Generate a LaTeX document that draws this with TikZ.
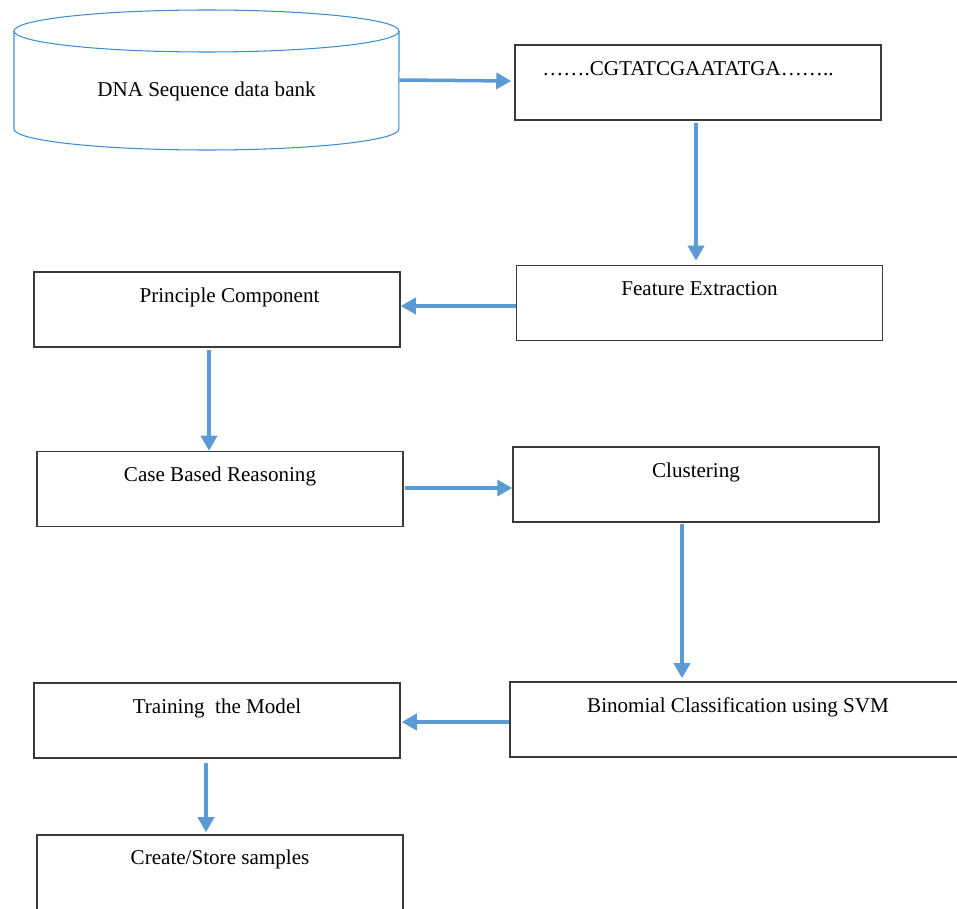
\documentclass[tikz,border=0pt]{standalone}
\usepackage{fontspec}
\setmainfont{Liberation Serif}
\usetikzlibrary{arrows.meta}
\definecolor{flowblue}{HTML}{5B9BD5}
\definecolor{bankblue}{HTML}{3C8DD6}
\definecolor{boxgray}{HTML}{3A3A3A}

\begin{document}
\begin{tikzpicture}[x=0.02cm,y=-0.02cm,
    stage/.style={rectangle,draw=boxgray,line width=0.9pt,inner sep=0pt,
      minimum width=7.32cm,text height=0.6cm,text depth=0.9cm,font=\fontsize{12}{14}\selectfont},
    flow/.style={draw=flowblue,line width=2pt,-{Triangle[length=0.3cm,width=0.32cm]}}]
    \useasboundingbox (0,0) rectangle (957,909);

    % data bank drawn as a cylinder
    \draw[bankblue,line width=0.6pt] (206.5,31) ellipse [x radius=3.85cm,y radius=0.42cm];
    \draw[bankblue,line width=0.6pt] (14,31) -- (14,129)
      arc [start angle=180,end angle=360,x radius=3.85cm,y radius=0.42cm] -- (399,31);
    \node[inner sep=0pt,minimum width=7.7cm,text height=1.74cm,text depth=1.06cm,
      font=\fontsize{12}{14}\selectfont] (bank) at (206.5,80) {DNA Sequence data bank};

    \node[stage] (seq) at (698,82.5) {\hspace*{-0.4cm}…….CGTATCGAATATGA……..};
    \node[stage] (feat) at (699.5,303) {Feature Extraction};
    \node[stage] (pc) at (217,309.5) {\hspace*{0.5cm}Principle Component};
    \node[stage] (cbr) at (220,489) {Case Based Reasoning};
    \node[stage] (clust) at (696,484.5) {Clustering};
    \node[stage,minimum width=9.12cm] (binom) at (738,719.5) {Binomial Classification using SVM};
    \node[stage] (train) at (217,720.5) {Training\ \ the Model};
    \node[stage,text depth=1.2cm] (store) at (220,880) {};
    \node[font=\fontsize{12}{14}\selectfont] (storetext) at (store.north) [anchor=north,inner sep=0pt,text height=0.6cm] {Create/Store samples};

    \path[flow] (bank.east |- 0,80) -- ([xshift=-0.06cm]seq.west |- 0,81);
    \path[flow] ([xshift=-0.04cm,yshift=-0.04cm]seq.south) -- ([xshift=-0.04cm,yshift=0.08cm]seq.south |- feat.north);
    \path[flow] (feat.west |- 0,306) -- (pc.east |- 0,306);
    \path[flow] ([xshift=-0.16cm,yshift=-0.04cm]pc.south) -- ([xshift=-0.16cm]pc.south |- cbr.north);
    \path[flow] ([xshift=0.02cm]cbr.east |- 0,488) -- (clust.west |- 0,488);
    \path[flow] ([xshift=-0.28cm,yshift=-0.02cm]clust.south) -- ([xshift=-0.28cm,yshift=0.06cm]clust.south |- binom.north);
    \path[flow] (binom.west |- 0,722) -- ([xshift=0.02cm]train.east |- 0,722);
    \path[flow] ([xshift=-0.22cm,yshift=-0.08cm]train.south) -- ([xshift=-0.22cm,yshift=0.04cm]train.south |- store.north);
  \end{tikzpicture}
\end{document}
